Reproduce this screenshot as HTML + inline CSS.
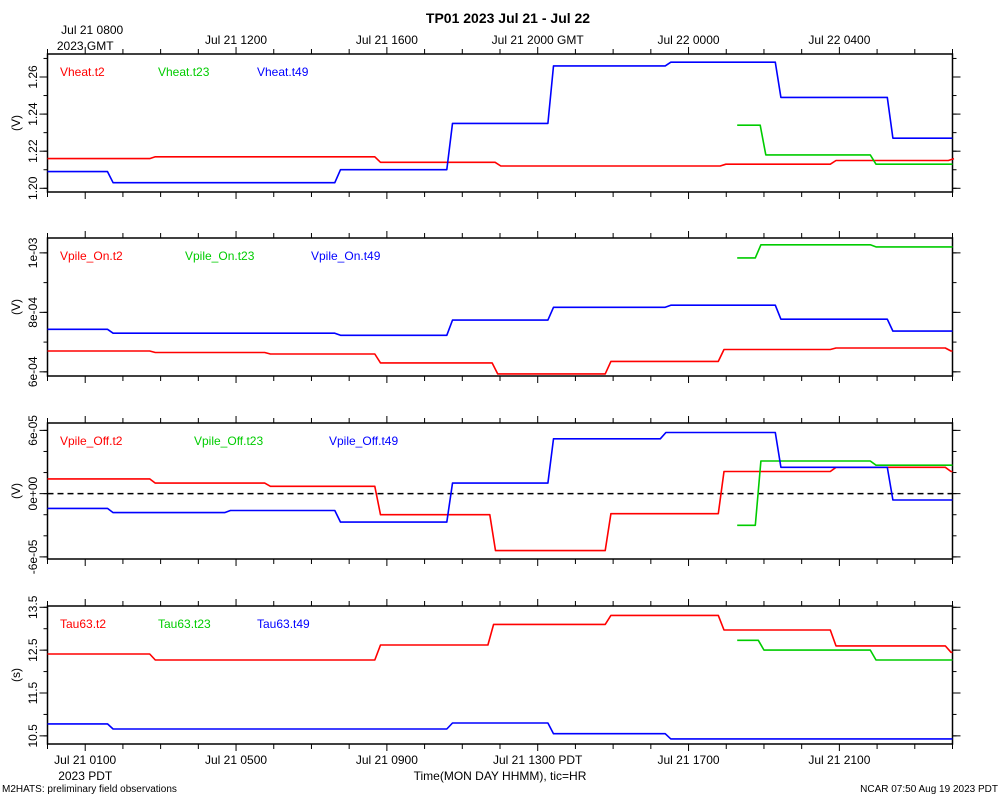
<!DOCTYPE html>
<html><head><meta charset="utf-8"><style>
body{margin:0;background:#fff}
svg{display:block;font-family:"Liberation Sans",sans-serif}
</style></head><body>
<svg id="c" width="1000" height="800" viewBox="0 0 1000 800">
<text x="508" y="23" text-anchor="middle" font-size="14" font-weight="bold">TP01 2023 Jul 21 - Jul 22</text>
<text x="2" y="792" font-size="10">M2HATS: preliminary field observations</text>
<text x="998" y="792" font-size="10" text-anchor="end">NCAR 07:50 Aug 19 2023 PDT</text>
<text x="500" y="780" font-size="12" text-anchor="middle">Time(MON DAY HHMM), tic=HR</text>
</svg>
<script>
// hours since Jul 21 0700 GMT
const topLabels = [[1,"Jul 21 0800"],[5,"Jul 21 1200"],[9,"Jul 21 1600"],[13,"Jul 21 2000 GMT"],[17,"Jul 22 0000"],[21,"Jul 22 0400"]];
const botLabels = [[1,"Jul 21 0100"],[5,"Jul 21 0500"],[9,"Jul 21 0900"],[13,"Jul 21 1300 PDT"],[17,"Jul 21 1700"],[21,"Jul 21 2100"]];

// Panel 1: Vheat
const p1RedT=[0,2.71,8.68,11.87,17.84,20.76,23.89], p1RedV=[1.216,1.217,1.214,1.212,1.213,1.215,1.216];
const p1BlueT=[0,1.59,7.62,10.59,13.27,16.38,19.30,22.27], p1BlueV=[1.209,1.203,1.210,1.235,1.266,1.268,1.249,1.227];
const p1GreenT=[18.29,18.90,21.82], p1GreenV=[1.234,1.218,1.213];
// Panel 2: Vpile_On
const p2RedT=[0,2.71,5.76,8.68,11.79,14.79,17.79,20.76,23.81], p2RedV=[6.7e-4,6.65e-4,6.6e-4,6.3e-4,5.93e-4,6.35e-4,6.75e-4,6.8e-4,6.7e-4];
const p2BlueT=[0,1.59,7.62,10.59,13.27,16.38,19.30,22.27], p2BlueV=[7.43e-4,7.3e-4,7.23e-4,7.74e-4,8.17e-4,8.24e-4,7.77e-4,7.37e-4];
const p2GreenT=[18.29,18.77,21.82], p2GreenV=[9.83e-4,1.027e-3,1.02e-3];
// Panel 3: Vpile_Off
const p3RedT=[0,2.71,5.76,8.68,11.73,14.79,17.79,20.76,23.81], p3RedV=[1.4e-5,1.0e-5,0.7e-5,-2.0e-5,-5.4e-5,-1.9e-5,2.1e-5,2.5e-5,2.1e-5];
const p3BlueT=[0,1.59,4.70,7.62,10.59,13.27,16.25,19.30,22.27], p3BlueV=[-1.4e-5,-1.8e-5,-1.6e-5,-2.7e-5,1.0e-5,5.2e-5,5.8e-5,2.5e-5,-0.6e-5];
const p3GreenT=[18.29,18.77,21.82], p3GreenV=[-3.0e-5,3.1e-5,2.7e-5];
// Panel 4: Tau63
const p4RedT=[0,2.71,8.68,11.68,14.79,17.79,20.76,23.81], p4RedV=[12.41,12.27,12.62,13.1,13.31,12.97,12.6,12.45];
const p4BlueT=[0,1.59,10.59,13.27,16.38], p4BlueV=[10.78,10.66,10.8,10.55,10.43];
const p4GreenT=[18.29,18.85,21.82], p4GreenV=[12.73,12.5,12.27];

const panels=[
 {name:"vheat",top:54,bot:192,min:1.1980,max:1.2724,major:[1.20,1.22,1.24,1.26],lab:["1.20","1.22","1.24","1.26"],minorStep:0.01,unit:"(V)",
  series:[["Vheat.t2","#f00",p1RedT,p1RedV,60],["Vheat.t23","#0c0",p1GreenT,p1GreenV,158],["Vheat.t49","#00f",p1BlueT,p1BlueV,257]]},
 {name:"vpile-on",top:238,bot:376,min:5.86e-4,max:1.05e-3,major:[6e-4,8e-4,1e-3],lab:["6e-04","8e-04","1e-03"],minorStep:1e-4,unit:"(V)",
  series:[["Vpile_On.t2","#f00",p2RedT,p2RedV,60],["Vpile_On.t23","#0c0",p2GreenT,p2GreenV,185],["Vpile_On.t49","#00f",p2BlueT,p2BlueV,311]]},
 {name:"vpile-off",top:423,bot:559,min:-6.2e-5,max:6.7e-5,major:[-6e-5,0,6e-5],lab:["-6e-05","0e+00","6e-05"],minorStep:2e-5,unit:"(V)",zero:true,
  series:[["Vpile_Off.t2","#f00",p3RedT,p3RedV,60],["Vpile_Off.t23","#0c0",p3GreenT,p3GreenV,194],["Vpile_Off.t49","#00f",p3BlueT,p3BlueV,329]]},
 {name:"tau63",top:606,bot:744,min:10.31,max:13.53,major:[10.5,11.5,12.5,13.5],lab:["10.5","11.5","12.5","13.5"],minorStep:0.5,unit:"(s)",
  series:[["Tau63.t2","#f00",p4RedT,p4RedV,60],["Tau63.t23","#0c0",p4GreenT,p4GreenV,158],["Tau63.t49","#00f",p4BlueT,p4BlueV,257]]}
];
const L=47.5,R=952.5;
const svg=document.getElementById('c');
const NS="http://www.w3.org/2000/svg";
function xS(h){return L+h*(R-L)/24;}
function mk(tag,attrs,parent){const e=document.createElementNS(NS,tag);for(const k in attrs)e.setAttribute(k,attrs[k]);(parent||svg).appendChild(e);return e;}

panels.forEach((p,pi)=>{
 const g=mk('g',{});
 
 
 const yS=v=>p.bot-(v-p.min)/(p.max-p.min)*(p.bot-p.top);
 const frame=mk('rect',{x:L,y:p.top,width:R-L,height:p.bot-p.top,fill:'none',stroke:'#000','stroke-width':1.5},g);
 
 
 for(let h=0;h<=24;h++){
  const x=xS(h),len=(h%4==1)?7:5;
  mk('line',{x1:x,y1:p.top,x2:x,y2:p.top-len,stroke:'#000','stroke-width':1},g);
  mk('line',{x1:x,y1:p.bot,x2:x,y2:p.bot+len,stroke:'#000','stroke-width':1},g);
 }
 const start=Math.ceil(p.min/p.minorStep-1e-6);
 for(let k=start;k*p.minorStep<=p.max+1e-12;k++){
  const y=yS(k*p.minorStep);
  mk('line',{x1:L,y1:y,x2:L-4,y2:y,stroke:'#000'},g);
  mk('line',{x1:R,y1:y,x2:R+4,y2:y,stroke:'#000'},g);
 }
 p.major.forEach((v,i)=>{
  const y=yS(v);
  mk('line',{x1:L,y1:y,x2:L-8,y2:y,stroke:'#000'},g);
  mk('line',{x1:R,y1:y,x2:R+8,y2:y,stroke:'#000'},g);
  const t=mk('text',{x:0,y:0,'font-size':12,'text-anchor':'middle',transform:`translate(37,${y}) rotate(-90)`},g);
  t.textContent=p.lab[i];
  
  
 });
 const ut=mk('text',{x:0,y:0,'font-size':12,'text-anchor':'middle',transform:`translate(20,${(p.top+p.bot)/2}) rotate(-90)`},g);
 ut.textContent=p.unit;
 
 
 if(p.zero){
  const z=mk('line',{x1:L,y1:yS(0),x2:R,y2:yS(0),stroke:'#000','stroke-width':1.6,'stroke-dasharray':'6,4'},g);
  
  
 }
 p.series.forEach(s=>{
  const [nm,col,T,V,lx]=s;
  const endH=24;
  let pts=[];
  for(let i=0;i<T.length;i++){
   const t0=(i==0)?T[0]:T[i]+0.15;
   const t1=(i<T.length-1)?T[i+1]:endH;
   pts.push([xS(t0),yS(V[i])],[xS(Math.max(t0,t1)),yS(V[i])]);
  }
  const path=mk('polyline',{points:pts.map(q=>q[0].toFixed(1)+','+q[1].toFixed(1)).join(' '),fill:'none',stroke:col,'stroke-width':1.6,'stroke-linejoin':'round'},g);
  
  
  const lt=mk('text',{x:lx,y:p.top+22,'font-size':12,fill:col},g);
  lt.textContent=nm;
  
  
 });
});
topLabels.forEach(([h,s],i)=>{
 const t=mk('text',{x:xS(h)+(i==0?7:0),y:i==0?34:44,'font-size':12,'text-anchor':'middle'});
 t.textContent=s;
 
 
});
const g1=mk('text',{x:xS(1),y:50,'font-size':12,'text-anchor':'middle'});
g1.textContent="2023 GMT";


botLabels.forEach(([h,s])=>{
 const t=mk('text',{x:xS(h),y:764,'font-size':12,'text-anchor':'middle'});
 t.textContent=s;
 
 
});
const g2=mk('text',{x:xS(1),y:780,'font-size':12,'text-anchor':'middle'});
g2.textContent="2023 PDT";


</script>
</body></html>
